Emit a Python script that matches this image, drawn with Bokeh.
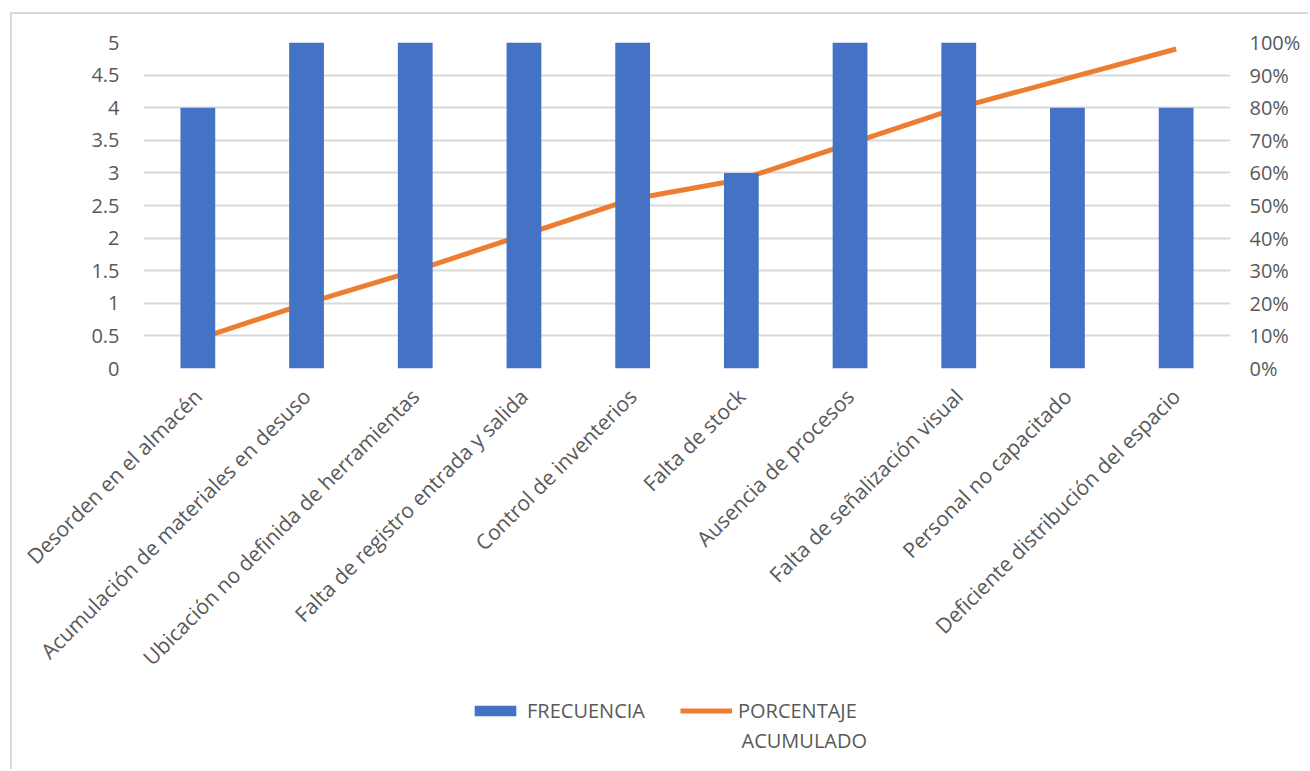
from bokeh.plotting import figure
from bokeh.models import (FactorRange, Range1d, LinearAxis, FixedTicker, Legend,
                          LegendItem, PrintfTickFormatter, Label)
from bokeh.embed import file_html
from bokeh.resources import INLINE

categories = [
    "Desorden en el almacén",
    "Acumulación de materiales en desuso",
    "Ubicación no definida de herramientas",
    "Falta de registro entrada y salida",
    "Control de inventerios",
    "Falta de stock",
    "Ausencia de procesos",
    "Falta de señalización visual",
    "Personal no capacitado",
    "Deficiente distribución del espacio",
]
frecuencia = [4, 5, 5, 5, 5, 3, 5, 5, 4, 4]
porcentaje_acumulado = [9, 20, 30, 41, 52, 58, 69, 80, 89, 98]
left_ticks = [0, 0.5, 1, 1.5, 2, 2.5, 3, 3.5, 4, 4.5, 5]
right_ticks = [0, 10, 20, 30, 40, 50, 60, 70, 80, 90, 100]
series_names = ["FRECUENCIA", "PORCENTAJE", "ACUMULADO"]

FONT = "Open Sans"
TXT = "#595959"
GRID = "#D9D9D9"
BLUE = "#4472C4"
ORANGE = "#ED7D31"

p = figure(
    width=1298, height=757,
    x_range=FactorRange(factors=categories),
    y_range=Range1d(0, 5),
    output_backend="svg", toolbar_location=None,
    min_border_left=131, min_border_top=28, min_border_right=80, min_border_bottom=403,
)
p.styles = {"margin-left": "10px", "margin-top": "12px",
            "border-left": "2px solid #D9D9D9", "border-top": "2px solid #D9D9D9"}
p.outline_line_color = None
p.background_fill_color = "white"
p.border_fill_color = "white"
p.extra_y_ranges = {"pct": Range1d(0, 100)}

# line first (drawn behind bars)
p.line(categories, porcentaje_acumulado, y_range_name="pct",
       line_color=ORANGE, line_width=5)
p.vbar(x=categories, top=frecuencia, width=0.32, fill_color=BLUE, line_color=None)

# left axis
ya = p.yaxis[0]
ya.ticker = FixedTicker(ticks=left_ticks)
ya.major_label_overrides = {t: f"{t:g}" for t in left_ticks}
ya.axis_line_color = None
ya.major_tick_line_color = None
ya.minor_tick_line_color = None
ya.major_label_standoff = 18
ya.major_label_text_font = FONT
ya.major_label_text_font_size = "20px"
ya.major_label_text_color = TXT

# right axis
ra = LinearAxis(y_range_name="pct", ticker=FixedTicker(ticks=right_ticks),
                formatter=PrintfTickFormatter(format="%d%%"))
ra.axis_line_color = None
ra.major_tick_line_color = None
ra.minor_tick_line_color = None
ra.major_label_standoff = 13
ra.major_label_text_font = FONT
ra.major_label_text_font_size = "20px"
ra.major_label_text_color = TXT
p.add_layout(ra, "right")

# x axis
xa = p.xaxis[0]
xa.major_label_orientation = 0.785398
xa.axis_line_color = None
xa.major_tick_line_color = None
xa.minor_tick_line_color = None
xa.major_label_standoff = 18
xa.major_label_text_font = FONT
xa.major_label_text_font_size = "21px"
xa.major_label_text_color = TXT

p.xgrid.grid_line_color = None
p.ygrid.ticker = FixedTicker(ticks=left_ticks)
p.ygrid.grid_line_color = GRID
p.ygrid.grid_line_width = 2

# legend, in a small separate figure laid over the bottom of the chart
# (its series are plotted out of view; only their legend glyphs show)
leg = figure(width=440, height=60, x_range=FactorRange(factors=categories),
             y_range=Range1d(1000, 1001),
             x_axis_type=None, y_axis_type=None, output_backend="svg",
             toolbar_location=None, min_border=0)
leg.outline_line_color = None
leg.background_fill_alpha = 0
leg.border_fill_alpha = 0
leg.xgrid.visible = False
leg.ygrid.visible = False
r_bar = leg.vbar(x=categories, top=frecuencia, width=0.32, fill_color=BLUE, line_color=None)
r_line = leg.line(categories, porcentaje_acumulado, line_color=ORANGE, line_width=5)
legend = Legend(
    items=[LegendItem(label=series_names[0], renderers=[r_bar]),
           LegendItem(label=series_names[1], renderers=[r_line])],
    orientation="horizontal",
    location=(9, 29.5),
    glyph_width=52, glyph_height=13, label_height=26,
    label_text_font=FONT, label_text_font_size="20px", label_text_color=TXT,
    label_standoff=6, spacing=35, padding=0, margin=0,
    border_line_color=None, background_fill_alpha=0,
)
leg.add_layout(legend, "center")
leg.add_layout(Label(x=281, y=13, x_units="screen", y_units="screen",
                     text=series_names[2], text_font=FONT, text_font_size="20px",
                     text_color=TXT, text_baseline="middle"))
leg.styles = {"margin-top": "-76px", "margin-left": "460px"}

open("out.html", "w").write(file_html([p, leg], INLINE))
